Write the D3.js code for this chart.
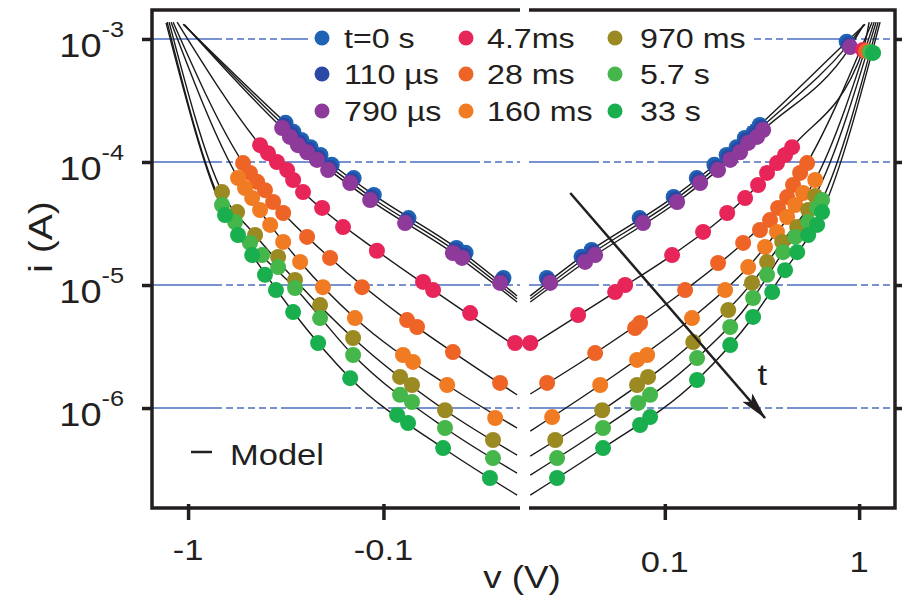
<!DOCTYPE html>
<html>
<head>
<meta charset="utf-8">
<script src="https://cdn.jsdelivr.net/npm/d3@7"></script>
<style>
body { margin: 0; background: #fff; }
text { font-family: "Liberation Sans", Arial, Helvetica, sans-serif; fill: #231f20; }
</style>
</head>
<body>
<script>

// legend names and colours, in plotting order
var names  = ["t=0 s", "110 µs", "790 µs", "4.7ms", "28 ms", "160 ms", "970 ms", "5.7 s", "33 s"];
var colors = ["#1f63b5", "#2b49a4", "#8d3a9a", "#e72558", "#ee6427", "#f17b22", "#9b8a21", "#44b64a", "#19ae4e"];

// axis ticks
var xTicksNeg = [-1, -0.1];
var xTicksPos = [0.1, 1];
var yTicks = [1e-3, 1e-4, 1e-5, 1e-6];

// measured points [v (V), i (A)]
var pts_0s = [[-0.317,2.08e-4],[-0.289,1.76e-4],[-0.263,1.51e-4],[-0.236,1.32e-4],[-0.210,1.14e-4],[-0.184,9.5e-5],[-0.142,7.4e-5],[-0.112,5.4e-5],[-0.0744,3.5e-5],[-0.0423,2.0e-5],[-0.038,1.83e-5],[-0.0243,1.14e-5],
  [0.0247,1.14e-5],[0.0373,1.7e-5],[0.042,1.93e-5],[0.0742,3.5e-5],[0.111,5.2e-5],[0.146,7.4e-5],[0.180,9.5e-5],[0.208,1.14e-4],[0.234,1.32e-4],[0.258,1.57e-4],[0.287,1.76e-4],[0.308,2.0e-4],[0.863,9.5e-4]];
var pts_110us = [[-0.323,1.98e-4],[-0.295,1.68e-4],[-0.269,1.44e-4],[-0.241,1.26e-4],[-0.215,1.09e-4],[-0.188,9.0e-5],[-0.145,7.1e-5],[-0.115,5.15e-5],[-0.076,3.35e-5],[-0.0432,1.91e-5],[-0.0388,1.74e-5],[-0.0248,1.09e-5],
  [0.0252,1.09e-5],[0.0381,1.62e-5],[0.0429,1.84e-5],[0.0758,3.35e-5],[0.1134,4.97e-5],[0.149,7.1e-5],[0.184,9.0e-5],[0.213,1.09e-4],[0.239,1.26e-4],[0.263,1.5e-4],[0.2925,1.68e-4],[0.314,1.91e-4],[0.881,9.0e-4]];
var pts_790us = [[-0.330,1.89e-4],[-0.301,1.60e-4],[-0.274,1.37e-4],[-0.246,1.20e-4],[-0.219,1.04e-4],[-0.192,8.6e-5],[-0.148,6.75e-5],[-0.117,4.9e-5],[-0.0775,3.19e-5],[-0.0441,1.82e-5],[-0.0396,1.66e-5],[-0.0253,1.04e-5],
  [0.0257,1.04e-5],[0.0389,1.54e-5],[0.0438,1.75e-5],[0.0773,3.19e-5],[0.1157,4.73e-5],[0.152,6.75e-5],[0.188,8.6e-5],[0.217,1.04e-4],[0.244,1.20e-4],[0.2685,1.43e-4],[0.2985,1.60e-4],[0.3206,1.82e-4],[0.899,8.6e-4]];
var pts_4_7ms = [[-0.428,1.37e-4],[-0.390,1.18e-4],[-0.351,1.0e-4],[-0.311,8.6e-5],[-0.290,7.14e-5],[-0.258,5.7e-5],[-0.206,4.23e-5],[-0.161,2.96e-5],[-0.108,1.9e-5],[-0.0627,1.06e-5],[-0.0557,9.1e-6],[-0.0360,5.92e-6],[-0.0212,3.38e-6],
  [0.0203,3.38e-6],[0.0358,5.7e-6],[0.0555,8.77e-6],[0.0625,1.0e-5],[0.109,1.75e-5],[0.1574,2.7e-5],[0.2094,3.85e-5],[0.259,5.09e-5],[0.302,6.5e-5],[0.336,8.15e-5],[0.378,9.8e-5],[0.416,1.14e-4],[0.452,1.32e-4],[1.049,8.15e-4]];
var pts_28ms = [[-0.523,9.8e-5],[-0.482,8.15e-5],[-0.443,6.9e-5],[-0.404,5.9e-5],[-0.367,4.73e-5],[-0.326,3.85e-5],[-0.246,2.46e-5],[-0.1876,1.66e-5],[-0.1288,9.6e-6],[-0.0757,5.19e-6],[-0.0673,4.56e-6],[-0.0441,2.85e-6],[-0.0253,1.6e-6],
  [0.0248,1.6e-6],[0.0438,2.8e-6],[0.0703,4.47e-6],[0.0746,4.91e-6],[0.1272,9.1e-6],[0.188,1.51e-5],[0.253,2.2e-5],[0.309,2.8e-5],[0.348,3.37e-5],[0.383,4.23e-5],[0.426,5.19e-5],[0.457,6.5e-5],[0.497,8.15e-5],[0.540,9.8e-5],[1.087,7.98e-4]];
var pts_160ms = [[-0.555,7.41e-5],[-0.511,6.15e-5],[-0.470,5.09e-5],[-0.428,4.07e-5],[-0.380,3.08e-5],[-0.326,2.24e-5],[-0.267,1.54e-5],[-0.204,9.6e-6],[-0.140,5.39e-6],[-0.0794,2.7e-6],[-0.0706,2.37e-6],[-0.0472,1.54e-6],[-0.0268,8.3e-7],
  [0.0263,8.45e-7],[0.0465,1.54e-6],[0.0720,2.46e-6],[0.0811,2.7e-6],[0.138,5.39e-6],[0.2044,9.1e-6],[0.2685,1.40e-5],[0.328,2.04e-5],[0.378,2.7e-5],[0.426,3.57e-5],[0.469,4.47e-5],[0.515,5.6e-5],[0.594,7.14e-5]];
var pts_970ms = [[-0.670,5.7e-5],[-0.561,3.92e-5],[-0.454,2.55e-5],[-0.346,1.69e-5],[-0.2835,1.10e-5],[-0.211,6.87e-6],[-0.143,3.71e-6],[-0.0822,1.79e-6],[-0.0714,1.54e-6],[-0.0484,9.6e-7],[-0.0275,5.5e-7],
  [0.0273,5.5e-7],[0.0476,9.6e-7],[0.0720,1.54e-6],[0.0820,1.79e-6],[0.140,3.44e-6],[0.212,6.26e-6],[0.281,1.04e-5],[0.336,1.54e-5],[0.402,2.24e-5],[0.480,2.96e-5],[0.547,4.07e-5],[0.594,5.3e-5]];
var pts_5_7s = [[-0.670,4.47e-5],[-0.575,3.25e-5],[-0.482,2.2e-5],[-0.418,1.75e-5],[-0.346,1.40e-5],[-0.2835,9.46e-6],[-0.211,5.39e-6],[-0.143,2.7e-6],[-0.0822,1.28e-6],[-0.0714,1.12e-6],[-0.0484,6.88e-7],[-0.0275,3.92e-7],
  [0.0279,3.92e-7],[0.0481,6.88e-7],[0.0729,1.10e-6],[0.0840,1.28e-6],[0.1466,2.55e-6],[0.217,4.56e-6],[0.2847,7.84e-6],[0.336,1.21e-5],[0.406,1.85e-5],[0.469,2.46e-5],[0.547,3.25e-5],[0.608,4.23e-5],[0.645,4.9e-5],[1.139,7.84e-4]];
var pts_33s = [[-0.647,3.7e-5],[-0.555,2.55e-5],[-0.470,1.75e-5],[-0.404,1.21e-5],[-0.355,9.1e-6],[-0.290,6.03e-6],[-0.216,3.38e-6],[-0.148,1.75e-6],[-0.0851,8.8e-7],[-0.0748,7.55e-7],[-0.0495,4.73e-7],[-0.0285,2.7e-7],
  [0.0279,2.7e-7],[0.0481,4.73e-7],[0.0746,7.28e-7],[0.0840,8.45e-7],[0.1466,1.69e-6],[0.217,3.25e-6],[0.2847,5.5e-6],[0.357,8.77e-6],[0.416,1.32e-5],[0.480,1.85e-5],[0.547,2.55e-5],[0.608,3.08e-5],[0.645,3.92e-5],[1.18,7.7e-4]];

// model curves [v (V), i (A)]
var mdl_0s = [[-1.061,1.32e-3],[-0.317,2.08e-4],[-0.210,1.14e-4],[-0.112,5.4e-5],[-0.0423,2.0e-5],[-0.0207,8.15e-6],
  [0.0203,8.15e-6],[0.0373,1.7e-5],[0.111,5.2e-5],[0.208,1.14e-4],[0.308,2.0e-4],[0.863,9.5e-4],[1.074,1.32e-3]];
var mdl_110us = [[-1.05,1.31e-3],[-0.323,1.98e-4],[-0.215,1.09e-4],[-0.115,5.15e-5],[-0.0432,1.91e-5],[-0.0207,7.7e-6],
  [0.0203,7.7e-6],[0.0381,1.62e-5],[0.1134,4.97e-5],[0.213,1.09e-4],[0.314,1.91e-4],[0.881,9.0e-4],[1.064,1.31e-3]];
var mdl_790us = [[-1.04,1.30e-3],[-0.330,1.89e-4],[-0.219,1.04e-4],[-0.117,4.9e-5],[-0.0441,1.82e-5],[-0.0207,7.28e-6],
  [0.0203,7.28e-6],[0.0389,1.54e-5],[0.1157,4.73e-5],[0.217,1.04e-4],[0.3206,1.82e-4],[0.899,8.6e-4],[1.054,1.30e-3]];
var mdl_4_7ms = [[-1.138,1.37e-3],[-0.428,1.37e-4],[-0.258,5.7e-5],[-0.108,1.9e-5],[-0.0557,9.1e-6],[-0.0207,3.13e-6],
  [0.0203,3.2e-6],[0.0555,8.77e-6],[0.109,1.75e-5],[0.259,5.09e-5],[0.452,1.32e-4],[1.049,8.15e-4],[1.126,1.37e-3]];
var mdl_28ms = [[-1.193,1.37e-3],[-0.523,9.8e-5],[-0.326,3.85e-5],[-0.1876,1.66e-5],[-0.0757,5.19e-6],[-0.0441,2.85e-6],[-0.0207,1.28e-6],
  [0.0203,1.3e-6],[0.0438,2.8e-6],[0.1272,9.1e-6],[0.253,2.2e-5],[0.383,4.23e-5],[0.540,9.8e-5],[1.166,1.37e-3]];
var mdl_160ms = [[-1.222,1.37e-3],[-0.555,7.41e-5],[-0.380,3.08e-5],[-0.267,1.54e-5],[-0.140,5.39e-6],[-0.0472,1.54e-6],[-0.0207,6.88e-7],
  [0.0203,6.5e-7],[0.0465,1.54e-6],[0.138,5.39e-6],[0.2685,1.4e-5],[0.378,2.7e-5],[0.594,7.14e-5],[1.195,1.37e-3]];
var mdl_970ms = [[-1.251,1.37e-3],[-0.670,5.7e-5],[-0.454,2.55e-5],[-0.2835,1.10e-5],[-0.143,3.71e-6],[-0.0484,9.6e-7],[-0.0207,4.15e-7],
  [0.0203,4.07e-7],[0.0476,9.6e-7],[0.140,3.44e-6],[0.281,1.04e-5],[0.402,2.24e-5],[0.594,5.3e-5],[1.223,1.37e-3]];
var mdl_5_7s = [[-1.28,1.37e-3],[-0.670,4.47e-5],[-0.482,2.2e-5],[-0.2835,9.46e-6],[-0.143,2.7e-6],[-0.0484,6.88e-7],[-0.0207,2.96e-7],
  [0.0203,2.85e-7],[0.0481,6.88e-7],[0.1466,2.55e-6],[0.2847,7.84e-6],[0.406,1.85e-5],[0.645,4.9e-5],[1.253,1.37e-3]];
var mdl_33s = [[-1.296,1.35e-3],[-0.647,3.7e-5],[-0.470,1.75e-5],[-0.290,6.03e-6],[-0.148,1.75e-6],[-0.0495,4.73e-7],[-0.0207,1.96e-7],
  [0.0203,1.96e-7],[0.0481,4.73e-7],[0.1466,1.69e-6],[0.2847,5.5e-6],[0.416,1.32e-5],[0.645,3.92e-5],[1.282,1.37e-3]];

var points = [pts_0s, pts_110us, pts_790us, pts_4_7ms, pts_28ms, pts_160ms, pts_970ms, pts_5_7s, pts_33s];
var models = [mdl_0s, mdl_110us, mdl_790us, mdl_4_7ms, mdl_28ms, mdl_160ms, mdl_970ms, mdl_5_7s, mdl_33s];

// time arrow, from / to [v, i], and label spot
var arrowFrom = [0.0326, 5.6e-5];
var arrowTo = [0.328, 8.3e-7];
var tLabel = [0.317, 1.54e-6];

var W = 903, H = 596;
var SX = 1.15; // figure text is a bit wide

var svg = d3.select("body").append("svg").attr("width", W).attr("height", H);

// split log axis: |v| on each side of zero
var xL = d3.scaleLog().domain([1.53, 0.02]).range([152, 520]);
var xR = d3.scaleLog().domain([0.02, 1.53]).range([529, 895]);
var y = d3.scaleLog().domain([1.54e-7, 1.72e-3]).range([508, 10]);
function xp(v) { return v < 0 ? xL(-v) : xR(v); }

function stext(g, x, yy, txt, size, anchor) {
    return g.append("text")
        .attr("transform", "translate(" + x + "," + yy + ") scale(" + SX + ",1)")
        .attr("font-size", size)
        .attr("text-anchor", anchor || "start")
        .text(txt);
}

//grid lines
var grid = svg.append("g");
[[152, 520], [529, 895]].forEach(function (r) {
    grid.selectAll(null).data(yTicks).enter().append("line")
        .attr("x1", r[0]).attr("x2", r[1])
        .attr("y1", function (d) { return y(d); })
        .attr("y2", function (d) { return y(d); })
        .attr("stroke", "#4c6fc2").attr("stroke-width", 1.5)
        .attr("stroke-dasharray", "70,4,7,4,7,4,7,4,7,4,7,4");
});

// model curves, one path per half
var line = d3.line()
    .x(function (d) { return xp(d[0]); })
    .y(function (d) { return y(d[1]); })
    .curve(d3.curveMonotoneX);

var mg = svg.append("g");
models.forEach(function (m) {
    var left = m.filter(function (d) { return d[0] < 0; }).sort(function (a, b) { return xp(a[0]) - xp(b[0]); });
    var right = m.filter(function (d) { return d[0] > 0; }).sort(function (a, b) { return xp(a[0]) - xp(b[0]); });
    [left, right].forEach(function (half) {
        mg.append("path").attr("d", line(half))
            .attr("fill", "none").attr("stroke", "#1a1a1a").attr("stroke-width", 1.4);
    });
});

// measured points
var dg = svg.append("g");
points.forEach(function (p, k) {
    dg.append("g").selectAll("circle").data(p).enter().append("circle")
        .attr("cx", function (d) { return xp(d[0]); })
        .attr("cy", function (d) { return y(d[1]); })
        .attr("r", 8)
        .attr("fill", colors[k]);
});

// frame (broken at v=0)
svg.append("path").attr("d", "M520,10H152V508H520").attr("fill", "none").attr("stroke", "#231f20").attr("stroke-width", 3.5);
svg.append("path").attr("d", "M529,10H895V508H529").attr("fill", "none").attr("stroke", "#231f20").attr("stroke-width", 3.5);

// x ticks
var axL = svg.append("g").attr("transform", "translate(0,508)")
    .call(d3.axisBottom(xL).tickValues(xTicksNeg.map(function (d) { return -d; })).tickSize(12).tickFormat(""));
var axR = svg.append("g").attr("transform", "translate(0,508)")
    .call(d3.axisBottom(xR).tickValues(xTicksPos).tickSize(12).tickFormat(""));
[axL, axR].forEach(function (a) {
    a.select(".domain").remove();
    a.selectAll(".tick line").attr("y1", -4).attr("stroke", "#231f20").attr("stroke-width", 3.5);
});
xTicksNeg.forEach(function (d) { stext(svg, xL(-d), 560, String(d), 30, "middle"); });
xTicksPos.forEach(function (d) { stext(svg, xR(d), 572, String(d), 30, "middle"); });

// y ticks
var ayL = svg.append("g").attr("transform", "translate(152,0)")
    .call(d3.axisLeft(y).tickValues(yTicks).tickSize(10).tickFormat(""));
var ayR = svg.append("g").attr("transform", "translate(895,0)")
    .call(d3.axisRight(y).tickValues(yTicks).tickSize(7).tickFormat(""));
[ayL, ayR].forEach(function (a) {
    a.select(".domain").remove();
    a.selectAll(".tick line").attr("stroke", "#231f20").attr("stroke-width", 3.5);
});
yTicks.forEach(function (d) {
    var e = Math.round(Math.log10(d));
    var t = svg.append("text")
        .attr("transform", "translate(124," + (y(d) + 18) + ") scale(" + SX + ",1)")
        .attr("text-anchor", "end");
    t.append("tspan").attr("font-size", 33).text("10");
    t.append("tspan").attr("font-size", 22).attr("dy", -20).text(String(e));
});

// axis titles
stext(svg, 522, 588, "v (V)", 32, "middle");
svg.append("text")
    .attr("transform", "translate(52,237) rotate(-90) scale(" + SX + ",1)")
    .attr("font-size", 34).attr("text-anchor", "middle").text("i (A)");

// legend
var leg = svg.append("g");
leg.append("rect").attr("x", 308).attr("y", 20).attr("width", 442).attr("height", 106).attr("fill", "#fff");
var colX = [322, 466, 615], rowY = [38, 74, 111], txtX = [344, 487, 640];
names.forEach(function (n, k) {
    var c = Math.floor(k / 3), r = k % 3;
    leg.append("circle").attr("cx", colX[c]).attr("cy", rowY[r]).attr("r", 7.5).attr("fill", colors[k]);
    stext(leg, txtX[c], rowY[r] + 10, n, 28, "start");
});

// model key
svg.append("line").attr("x1", 191).attr("x2", 212).attr("y1", 452).attr("y2", 452).attr("stroke", "#231f20").attr("stroke-width", 2.5);
stext(svg, 230, 465, "Model", 30, "start");

// time arrow
svg.append("defs").append("marker").attr("id", "ah")
    .attr("viewBox", "0 0 28 13").attr("refX", 27).attr("refY", 6.5)
    .attr("markerWidth", 28).attr("markerHeight", 13).attr("markerUnits", "userSpaceOnUse")
    .attr("orient", "auto")
    .append("path").attr("d", "M0,0L28,6.5L0,13L6,6.5Z").attr("fill", "#231f20");
svg.append("line")
    .attr("x1", xp(arrowFrom[0])).attr("y1", y(arrowFrom[1]))
    .attr("x2", xp(arrowTo[0])).attr("y2", y(arrowTo[1]))
    .attr("stroke", "#231f20").attr("stroke-width", 2.5)
    .attr("marker-end", "url(#ah)");
stext(svg, xp(tLabel[0]), y(tLabel[1]), "t", 30, "middle");

</script>
</body>
</html>
